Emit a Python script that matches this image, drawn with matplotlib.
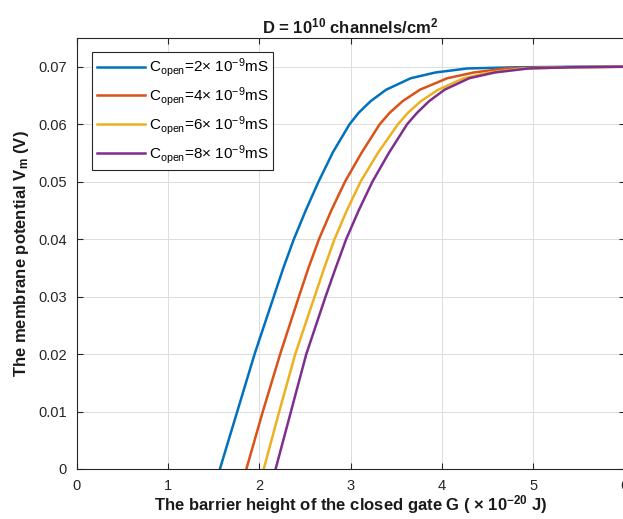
import matplotlib
matplotlib.use('Agg')
import matplotlib.pyplot as plt

plt.rcParams['font.family'] = ['Liberation Sans', 'DejaVu Sans']
plt.rcParams['mathtext.default'] = 'regular'

# Values (G in 1e-20 J, Vm in V)
g_blue = [1.57, 1.76, 1.95, 2.16, 2.265, 2.38, 2.51, 2.65, 2.81, 2.99, 3.09, 3.22, 3.39, 3.66, 3.93, 4.28, 4.8, 5.5, 6.0]
v_blue = [0, 0.01, 0.02, 0.03, 0.035, 0.04, 0.045, 0.05, 0.0552, 0.06, 0.062, 0.064, 0.066, 0.068, 0.069, 0.0697, 0.0699, 0.07, 0.07]

g_orange = [1.86, 2.04, 2.23, 2.435, 2.54, 2.655, 2.79, 2.94, 3.12, 3.32, 3.43, 3.57, 3.76, 4.06, 4.35, 4.7, 5.2, 6.0]
v_orange = [0, 0.01, 0.02, 0.03, 0.035, 0.04, 0.045, 0.05, 0.055, 0.06, 0.062, 0.064, 0.066, 0.068, 0.069, 0.0697, 0.0699, 0.07]

g_yellow = [2.05, 2.22, 2.395, 2.607, 2.713, 2.825, 2.96, 3.11, 3.3, 3.52, 3.63, 3.77, 3.96, 4.24, 4.52, 4.88, 5.35, 6.0]
v_yellow = [0, 0.01, 0.02, 0.03, 0.035, 0.04, 0.045, 0.05, 0.055, 0.06, 0.062, 0.064, 0.066, 0.068, 0.069, 0.0697, 0.0699, 0.07]

g_purple = [2.18, 2.348, 2.516, 2.727, 2.838, 2.953, 3.09, 3.24, 3.42, 3.62, 3.73, 3.86, 4.03, 4.3, 4.58, 4.95, 5.4, 6.0]
v_purple = [0, 0.01, 0.02, 0.03, 0.035, 0.04, 0.045, 0.05, 0.055, 0.06, 0.062, 0.064, 0.066, 0.068, 0.069, 0.0697, 0.0699, 0.07]

labels = [r'C$_{open}$=2$\times$ 10$^{-9}$mS',
          r'C$_{open}$=4$\times$ 10$^{-9}$mS',
          r'C$_{open}$=6$\times$ 10$^{-9}$mS',
          r'C$_{open}$=8$\times$ 10$^{-9}$mS']
colors = ['#0072BD', '#D95319', '#EDB120', '#7E2F8E']

fig = plt.figure(figsize=(6.23, 5.19), dpi=100)
ax = fig.add_axes([76.5 / 623, 50 / 519, 548 / 623, 431 / 519])

series = [(g_blue, v_blue), (g_orange, v_orange), (g_yellow, v_yellow), (g_purple, v_purple)]
for (g, v), c, lab in zip(series, colors, labels):
    ax.plot(g, v, color=c, linewidth=1.8, label=lab, solid_joinstyle='round')

ax.set_xlim(0, 6)
ax.set_ylim(0, 0.075)
ax.set_xticks(range(0, 7))
ax.set_yticks([0, 0.01, 0.02, 0.03, 0.04, 0.05, 0.06, 0.07])
ax.set_yticklabels(['0', '0.01', '0.02', '0.03', '0.04', '0.05', '0.06', '0.07'])

ax.grid(True, color='#dcdcdc', linewidth=0.7)
ax.set_axisbelow(True)
ax.tick_params(direction='in', top=True, right=True, length=4, width=0.8,
               colors='#262626', labelsize=10.5)
ax.tick_params(axis='x', pad=7)
ax.tick_params(axis='y', pad=7)
for s in ax.spines.values():
    s.set_color('#262626')
    s.set_linewidth(0.8)

ax.set_title(r'D = 10$^{10}$ channels/cm$^{2}$', fontsize=12, fontweight='bold', color='#1a1a1a', pad=3)
ax.set_xlabel(r'The barrier height of the closed gate G ( $\times$ 10$^{-20}$ J)', fontsize=12,
              fontweight='bold', color='#1a1a1a', labelpad=0)
ax.set_ylabel(r'The membrane potential V$_{m}$ (V)', fontsize=12, fontweight='bold',
              color='#1a1a1a', labelpad=5)

leg = ax.legend(loc='upper left', bbox_to_anchor=(15.5 / 548, 1 - 14 / 431), borderaxespad=0,
                fontsize=11, handlelength=3.2, labelspacing=0.38, fancybox=False,
                framealpha=1, edgecolor='#262626', borderpad=0.3, handletextpad=0.2)
leg.get_frame().set_linewidth(0.8)

fig.savefig('out.png', dpi=100)
